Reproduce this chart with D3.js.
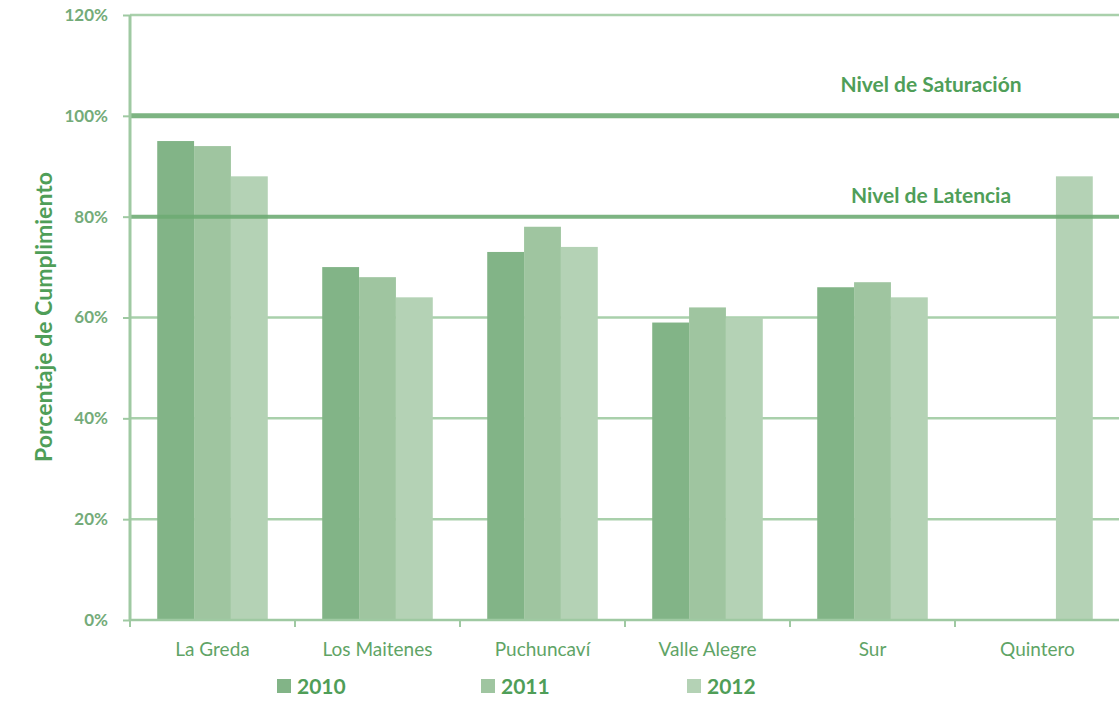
<!DOCTYPE html>
<html><head><meta charset="utf-8">
<script src="https://cdn.jsdelivr.net/npm/d3@7"></script>
<style>body{margin:0;background:#fff;}svg{display:block;font-family:Lato,"Open Sans",sans-serif;}</style>
</head><body>
<svg id="c" width="1119" height="702"></svg>
<script>
const categories = ["La Greda","Los Maitenes","Puchuncaví","Valle Alegre","Sur","Quintero"];
const seriesNames = ["2010","2011","2012"];
const v2010 = [95, 70, 73, 59, 66, null];
const v2011 = [94, 68, 78, 62, 67, null];
const v2012 = [88, 64, 74, 60, 64, 88];
const yTicks = [0,20,40,60,80,100,120];
const thresholds = [{value:100,label:"Nivel de Saturación"},{value:80,label:"Nivel de Latencia"}];
const colors = ["#82b487","#9fc5a0","#b4d2b5"];

(function(){
const series = [v2010, v2011, v2012];
const svg = d3.select("#c");
const pL = 130, pR = 1120, pT = 15, pB = 620;
const x = d3.scaleBand().domain(categories).range([pL, pR]).paddingInner(0.33).paddingOuter(0.165);
const xc = d3.scaleBand().domain(categories).range([pL, pR]);
const x1 = d3.scaleBand().domain(seriesNames).range([0, x.bandwidth()]);
const y = d3.scaleLinear().domain([0,120]).range([pB, pT]);

// gridlines
svg.append("g").selectAll("line").data(yTicks.filter(t=>t>0 && t!==80 && t!==100)).join("line")
  .attr("x1", pL).attr("x2", pR).attr("y1", d=>y(d)).attr("y2", d=>y(d))
  .attr("stroke","#a9d0ab").attr("stroke-width",2.5);

// bars
const g = svg.append("g");
categories.forEach((c,i)=>{
  series.forEach((s,j)=>{
    if (s[i]==null) return;
    g.append("rect").attr("x", x(c)+x1(seriesNames[j])).attr("width", x1.bandwidth())
      .attr("y", y(s[i])).attr("height", y(0)-y(s[i])).attr("fill", colors[j]);
  });
});

// threshold lines
svg.append("g").selectAll("line").data(thresholds).join("line")
  .attr("x1", pL).attr("x2", pR).attr("y1", d=>y(d.value)).attr("y2", d=>y(d.value))
  .attr("stroke","#6fac75").attr("stroke-width",d=>d.value===100?5:4).attr("opacity",0.9);
svg.append("g").selectAll("text").data(thresholds).join("text")
  .attr("x", 931).attr("y", d=>y(d.value)-(d.value===100?24:14)).attr("text-anchor","middle")
  .attr("font-size",21).attr("font-weight","bold").attr("fill","#4f9e58").text(d=>d.label);

// y axis
const ya = svg.append("g").attr("transform",`translate(${pL},0)`)
  .call(d3.axisLeft(y).tickValues(yTicks).tickFormat(d=>d+"%").tickSize(7).tickPadding(15));
ya.select(".domain").attr("stroke","#9fc9a2").attr("stroke-width",3).attr("d",`M0,${pT}V${pB}`);
ya.selectAll(".tick line").attr("stroke","#9fc9a2").attr("stroke-width",2);
ya.selectAll(".tick text").attr("fill","#74ab79").attr("font-size",17).attr("font-family","Lato,sans-serif").attr("font-weight","bold");

// x axis
const xa = svg.append("g").attr("transform",`translate(0,${pB})`)
  .call(d3.axisBottom(xc).tickSize(0).tickPadding(23));
xa.select(".domain").attr("stroke","#9fc9a2").attr("stroke-width",2.5).attr("d",`M${pL},0H${pR}`);
xa.selectAll(".tick text").attr("fill","#5fa466").attr("font-size",19).attr("font-family","Lato,sans-serif");
svg.append("g").selectAll("line").data(d3.range(categories.length+1)).join("line")
  .attr("x1",d=>pL+d*xc.step()).attr("x2",d=>pL+d*xc.step()).attr("y1",pB).attr("y2",pB+7)
  .attr("stroke","#9fc9a2").attr("stroke-width",2);

// y title
svg.append("text").attr("transform","translate(52,317) rotate(-90)").attr("text-anchor","middle")
  .attr("font-size",23).attr("font-weight","bold").attr("fill","#4f9e58").text("Porcentaje de Cumplimiento");

// legend
const lx = [277, 481, 687];
const lg = svg.append("g").selectAll("g").data(seriesNames).join("g")
  .attr("transform",(d,i)=>`translate(${lx[i]},686)`);
lg.append("rect").attr("x",0).attr("y",-7).attr("width",14).attr("height",14).attr("fill",(d,i)=>colors[i]);
lg.append("text").attr("x",20).attr("y",8).attr("font-size",21).attr("font-weight","bold").attr("fill","#4f9e58").text(d=>d);
})();
</script>
</body></html>
